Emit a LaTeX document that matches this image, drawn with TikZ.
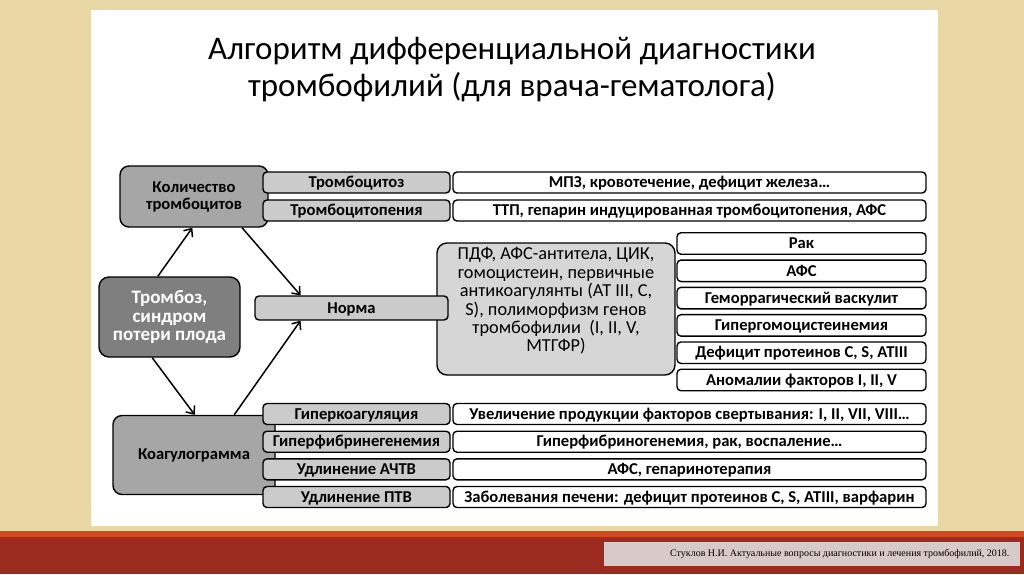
\documentclass[tikz,border=0pt]{standalone}
\usepackage{fontspec}
\setmainfont{Carlito}
\newfontfamily\footfont{Liberation Serif}
\usetikzlibrary{arrows.meta,positioning,calc}
\definecolor{paper}{HTML}{E9D7A6}
\definecolor{stripe}{HTML}{D4491F}
\definecolor{darkred}{HTML}{9C2B1F}
\definecolor{footgrey}{HTML}{D9CACA}
\definecolor{deepgrey}{HTML}{7F7F7F}
\definecolor{midgrey}{HTML}{A6A6A6}
\definecolor{lightgrey}{HTML}{CBCBCB}
\definecolor{palegrey}{HTML}{D6D6D6}
\tikzset{
  groupbox/.style={draw=black, fill=midgrey, rounded corners=9pt, line width=1.4pt, align=center,
    inner sep=0pt, font=\fontsize{16.6}{17}\selectfont\bfseries},
  sourcebox/.style={draw=black, fill=deepgrey, rounded corners=10pt, line width=1.4pt, align=center,
    inner sep=0pt, text=white, font=\fontsize{19}{18.5}\selectfont\bfseries},
  labelbox/.style={draw=black, fill=lightgrey, rounded corners=4pt, line width=1.4pt, align=center,
    inner sep=0pt, minimum width=187, minimum height=21, text height=12pt, text depth=1.5pt,
    font=\fontsize{16.6}{17}\selectfont\bfseries},
  resultbox/.style={labelbox, fill=white, minimum width=473},
  causebox/.style={labelbox, fill=white, minimum width=249, minimum height=21.5},
  testbox/.style={draw=black, fill=palegrey, rounded corners=10pt, line width=1.4pt, inner sep=0pt},
  flow/.style={-{Straight Barb[length=6.5pt,width=11pt]}, draw=black, line width=1.5pt},
}
\begin{document}
\begin{tikzpicture}[x=1pt, y=-1pt]
  \useasboundingbox (0,0) rectangle (1024,574);
  % фон слайда
  \fill[paper] (0,0) rectangle (1024,574);
  \fill[white] (91,10) rectangle (938,526);
  \fill[stripe] (0,531) rectangle (1024,537);
  \fill[darkred] (0,537) rectangle (1024,574);
  \fill[footgrey] (604,542) rectangle (1020,566);
  \node[font=\footfont\fontsize{10}{12}\selectfont, anchor=east] (src) at (1013,554)
    {Стуклов Н.И. Актуальные вопросы диагностики и лечения тромбофилий, 2018.};

  % заголовок
  \node[align=center, inner sep=0pt, font=\fontsize{33}{37}\selectfont] (title) at (512,70)
    {Алгоритм дифференциальной диагностики\\тромбофилий (для врача-гематолога)};

  % тромбоциты
  \node[groupbox, minimum width=148, minimum height=61] (qty) at (194,196.5) {Количество\\тромбоцитов};
  \node[labelbox] (tcz) at (356.5,182.5) {Тромбоцитоз};
  \node[resultbox] (tczr) at (689.5,182.5) {МПЗ, кровотечение, дефицит железа…};
  \node[labelbox] (tcp) at (356.5,210.5) {Тромбоцитопения};
  \node[resultbox] (tcpr) at (689.5,210.5) {ТТП, гепарин индуцированная тромбоцитопения, АФС};

  % исходная ситуация
  \node[sourcebox, minimum width=141, minimum height=80] (thromb) at (169.5,317) {Тромбоз,\\синдром\\потери плода};

  % норма
  \node[testbox, minimum width=238, minimum height=132] (tests) at (556,309) {};
  \node[align=center, inner sep=0pt, font=\fontsize{18.3}{18.4}\selectfont] (teststext) at (556,301)
    {ПДФ, АФС-антитела, ЦИК,\\гомоцистеин, первичные\\антикоагулянты (АТ III, С,\\S), полиморфизм генов\\тромбофилии~ (I, II, V,\\МТГФР)};
  \node[labelbox, minimum width=193, minimum height=24] (norm) at (351.5,308) {Норма};
  \node[causebox] (c1) at (801.5,243.5) {Рак};
  \node[causebox] (c2) at (801.5,270.8) {АФС};
  \node[causebox] (c3) at (801.5,298.1) {Геморрагический васкулит};
  \node[causebox] (c4) at (801.5,325.4) {Гипергомоцистеинемия};
  \node[causebox] (c5) at (801.5,352.7) {Дефицит протеинов С, S, АТIII};
  \node[causebox] (c6) at (801.5,380) {Аномалии факторов I, II, V};

  % коагулограмма
  \node[groupbox, minimum width=162, minimum height=79] (coag) at (194,455) {Коагулограмма};
  \node[labelbox] (k1) at (356.5,414) {Гиперкоагуляция};
  \node[resultbox] (k1r) at (689.5,414) {Увеличение продукции факторов свертывания: I, II, VII, VIII…};
  \node[labelbox] (k2) at (356.5,441.7) {Гиперфибринегенемия};
  \node[resultbox] (k2r) at (689.5,441.7) {Гиперфибриногенемия, рак, воспаление…};
  \node[labelbox] (k3) at (356.5,469.3) {Удлинение АЧТВ};
  \node[resultbox] (k3r) at (689.5,469.3) {АФС, гепаринотерапия};
  \node[labelbox] (k4) at (356.5,497) {Удлинение ПТВ};
  \node[resultbox] (k4r) at (689.5,497) {Заболевания печени: дефицит протеинов С, S, АТIII, варфарин};

  \draw[flow] (thromb.106) -- (qty.267);
  \draw[flow] (qty.327) -- (norm.166);
  \draw[flow] (thromb.247) -- (coag.89);
  \draw[flow] (coag.45) -- (norm.194);
\end{tikzpicture}
\end{document}
